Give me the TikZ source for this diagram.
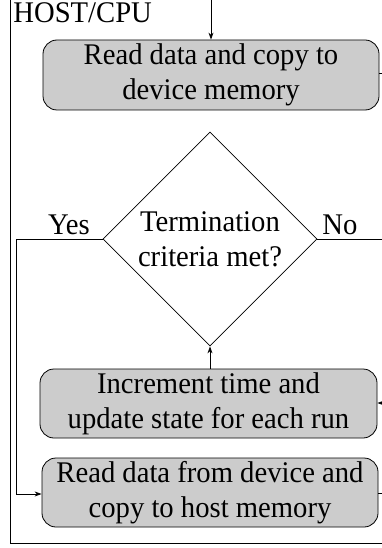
\documentclass[tikz,border=0pt]{standalone}
\usepackage{fontspec}
\setmainfont{Liberation Serif}[FakeStretch=0.955]
\usetikzlibrary{shapes.geometric,arrows.meta}
\begin{document}
\begin{tikzpicture}[x=1pt,y=-1pt,
  line width=0.8pt,
  proc/.style={draw, rounded corners=14pt, fill=black!20, align=center,
    font=\fontsize{30}{35}\selectfont, inner sep=0pt},
  decision/.style={draw, diamond, aspect=1, inner sep=0pt, align=center,
    font=\fontsize{30}{35}\selectfont, minimum width=214pt, minimum height=214pt},
  lbl/.style={font=\fontsize{30}{35}\selectfont, inner sep=0pt},
  flow/.style={-{Stealth[length=7pt,width=5pt]}}]
\useasboundingbox (0,0) rectangle (382,548);
% host frame
\coordinate (ftop) at (10,-5);
\coordinate (fbl) at (10,543);
\coordinate (fbr) at (390,543);
\draw (ftop) -- (fbl) -- (fbr);
\node[lbl, anchor=base west] (host) at (13,22.5) {HOST/CPU};
% process steps
\node[proc, minimum width=336pt, minimum height=70pt] (read) at (211,75)
  {Read data and copy to\\device memory};
\node[decision] (term) at (210,239) {Termination\\criteria met?};
\node[proc, minimum width=337pt, minimum height=69pt] (inc) at (208.5,403.5)
  {Increment time and\\update state for each run};
\node[proc, minimum width=336pt, minimum height=69pt] (back) at (210,492.5)
  {Read data from device and\\copy to host memory};
% branch labels
\node[lbl, anchor=base] (yes) at (69,234) {Yes};
\node[lbl, anchor=base] (no) at (340,234) {No};
% connectors
\coordinate (in) at (211,-5);
\coordinate (readout) at (390,73);
\coordinate (noout) at (390,239);
\coordinate (incin) at (390,403);
\coordinate (backout) at (390,493);
\draw[flow] (in) -- (read.north -| in);
\draw (read.east |- readout) -- (readout);
\draw (term.east) -- (noout);
\draw[flow] (incin) -- (inc.east |- incin);
\draw[flow] (inc.north -| term.south) -- (term.south);
\draw[flow] (term.west) -- (16,239) -- (16,494) -- (back.west |- 0,494);
\draw (back.east |- backout) -- (backout);
\end{tikzpicture}
\end{document}
